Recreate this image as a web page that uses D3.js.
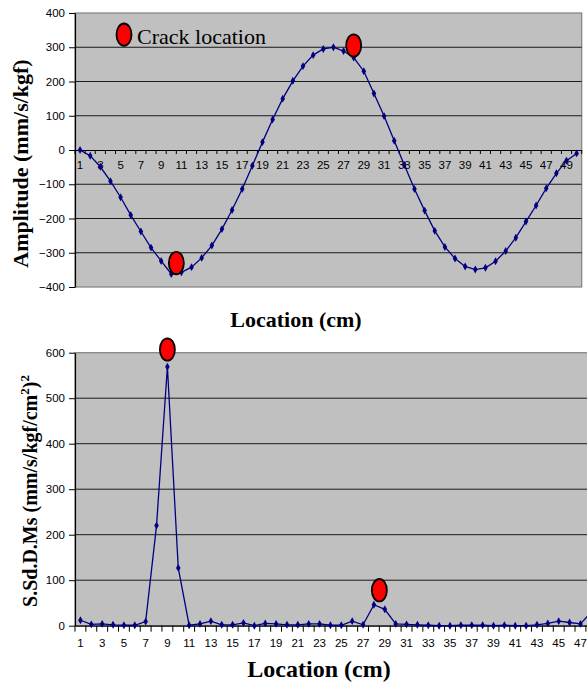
<!DOCTYPE html>
<meta charset="utf-8">
<title>crack location charts</title>
<style>
body { margin: 0; background: #fff; }
svg { display: block; }
.tick text { font-family: "Liberation Sans", Arial, sans-serif; font-size: 11.5px; fill: #000; }
.title { font-family: "Liberation Serif", "Times New Roman", serif; font-weight: bold; }
</style>
<svg width="587" height="685"></svg>
<script src="https://cdn.jsdelivr.net/npm/d3@7/dist/d3.min.js"></script>
<script>
// location index 1..50
var locations = d3.range(1, 51).map(String);

// top: amplitude (mm/s/kgf) at each location
var amplitude = [0, -17, -49, -91, -138, -190, -238, -285, -324, -362,
  -357, -342, -315, -279, -231, -175, -114, -46, 23, 89,
  150, 202, 245, 277, 295, 300, 289, 270, 230, 165,
  99, 27, -44, -114, -177, -236, -283, -317, -340, -349,
  -344, -325, -295, -256, -209, -162, -112, -68, -31, -10];
var ampTicks = [-400, -300, -200, -100, 0, 100, 200, 300, 400];

// bottom: S.Sd.D.Ms at each location (last ones run off the picture)
var ssd = [12, 3, 4, 2, 1, 1, 9, 220, 569, 127,
  1, 4, 10, 2, 2, 6, 0, 5, 4, 2,
  2, 4, 4, 1, 1, 10, 2, 46, 36, 4,
  3, 2, 1, 0, 0, 1, 1, 1, 0, 1,
  0, 0, 2, 5, 10, 7, 4, 30];
var ssdTicks = [0, 100, 200, 300, 400, 500, 600];

// crack markers (location, value)
var cracksTop = [[10.5, -330], [28, 305]];
var cracksBottom = [[9, 607], [28.5, 78]];

var svg = d3.select("svg");

function drawChart(o) {
  var g = svg.append("g");
  var x = d3.scaleBand().domain(locations).range([o.left, o.right]).padding(0);
  var y = d3.scaleLinear().domain(o.yDomain).range([o.bottom, o.top]);
  var bw = x.bandwidth();
  var xl = d3.scaleLinear().domain([1, 50]).range([x("1") + bw / 2, x("50") + bw / 2]);

  // plot background + border
  g.append("rect")
    .attr("x", o.left).attr("y", o.top)
    .attr("width", o.right - o.left).attr("height", o.bottom - o.top)
    .attr("fill", "#c0c0c0").attr("stroke", "#808080").attr("stroke-width", 1.2);

  // gridlines
  g.append("g").selectAll("line")
    .data(o.ticks.filter(function(t) { return t !== 0 && t !== o.yDomain[1] && t !== o.yDomain[0]; }))
    .enter().append("line")
    .attr("x1", o.left).attr("x2", o.right)
    .attr("y1", function(d) { return y(d); }).attr("y2", function(d) { return y(d); })
    .attr("stroke", "#1a1a1a").attr("stroke-width", 1);

  // y axis
  var ya = g.append("g")
    .attr("transform", "translate(" + o.left + ",0)")
    .call(d3.axisLeft(y).tickValues(o.ticks).tickSize(6).tickPadding(4).tickSizeOuter(0));
  ya.select(".domain").attr("stroke", "#000").attr("stroke-width", 1.2);
  ya.selectAll(".tick line").attr("stroke", "#000");

  // x axis at zero
  var y0 = y(0);
  var xa = g.append("g")
    .attr("transform", "translate(0," + y0 + ")")
    .call(d3.axisBottom(x).tickSize(0).tickPadding(o.labelPad).tickSizeOuter(0)
      .tickFormat(function(d) { return (+d % 2 === 1 && +d <= o.maxLabel) ? d : ""; }));
  xa.select(".domain").attr("stroke", "#000").attr("stroke-width", 1.2);
  xa.selectAll(".tick text").attr("dy", "0.71em");

  // boundary ticks between categories
  g.append("g").selectAll("line")
    .data(locations.concat(["end"]))
    .enter().append("line")
    .attr("x1", function(d) { return d === "end" ? o.right : x(d); })
    .attr("x2", function(d) { return d === "end" ? o.right : x(d); })
    .attr("y1", y0).attr("y2", y0 + o.tickLen)
    .attr("stroke", "#000").attr("stroke-width", 1);

  // series
  var vals = o.values;
  g.append("path")
    .datum(vals)
    .attr("fill", "none")
    .attr("stroke", "#000080")
    .attr("stroke-width", 1.3)
    .attr("d", d3.line()
      .x(function(d, i) { return x(locations[i]) + bw / 2; })
      .y(function(d) { return y(d); }));

  g.append("g").selectAll("path")
    .data(vals)
    .enter().append("path")
    .attr("transform", function(d, i) { return "translate(" + (x(locations[i]) + bw / 2) + "," + y(d) + ")"; })
    .attr("d", d3.symbol().type(d3.symbolDiamond).size(18))
    .attr("fill", "#000080");

  // crack markers
  g.append("g").selectAll("ellipse")
    .data(o.cracks)
    .enter().append("ellipse")
    .attr("cx", function(d) { return xl(d[0]); })
    .attr("cy", function(d) { return y(d[1]); })
    .attr("rx", 7.5).attr("ry", 11.2)
    .attr("fill", "#ff0000").attr("stroke", "#000").attr("stroke-width", 1.8);

  return g;
}

drawChart({
  left: 75, right: 581.7, top: 13, bottom: 287,
  yDomain: [-400, 400], ticks: ampTicks, values: amplitude,
  cracks: cracksTop, labelPad: 11, tickLen: 4, maxLabel: 49
});

drawChart({
  left: 75, right: 618.5, top: 352.7, bottom: 625.7,
  yDomain: [0, 600], ticks: ssdTicks, values: ssd,
  cracks: cracksBottom, labelPad: 13, tickLen: 6, maxLabel: 49
});

// legend
svg.append("ellipse")
  .attr("cx", 124).attr("cy", 34.7).attr("rx", 7.5).attr("ry", 11.2)
  .attr("fill", "#ff0000").attr("stroke", "#000").attr("stroke-width", 1.8);
svg.append("text")
  .attr("x", 137).attr("y", 44)
  .attr("font-family", "'Liberation Serif', 'Times New Roman', serif")
  .attr("font-size", 22)
  .text("Crack location");

// axis titles
svg.append("text").attr("class", "title")
  .attr("x", 296).attr("y", 327).attr("text-anchor", "middle").attr("font-size", 22)
  .text("Location (cm)");
svg.append("text").attr("class", "title")
  .attr("x", 319).attr("y", 677).attr("text-anchor", "middle").attr("font-size", 24)
  .text("Location (cm)");

svg.append("text").attr("class", "title")
  .attr("transform", "translate(28,163.5) rotate(-90)")
  .attr("text-anchor", "middle").attr("font-size", 22)
  .text("Amplitude (mm/s/kgf)");

var t2 = svg.append("text").attr("class", "title")
  .attr("transform", "translate(37,491) rotate(-90)")
  .attr("text-anchor", "middle").attr("font-size", 20);
t2.append("tspan").text("S.Sd.D.Ms (mm/s/kgf/cm");
t2.append("tspan").attr("dy", -8).attr("font-size", 13).text("2");
t2.append("tspan").attr("dy", 8).text(")");
t2.append("tspan").attr("dy", -8).attr("font-size", 13).text("2");
</script>
